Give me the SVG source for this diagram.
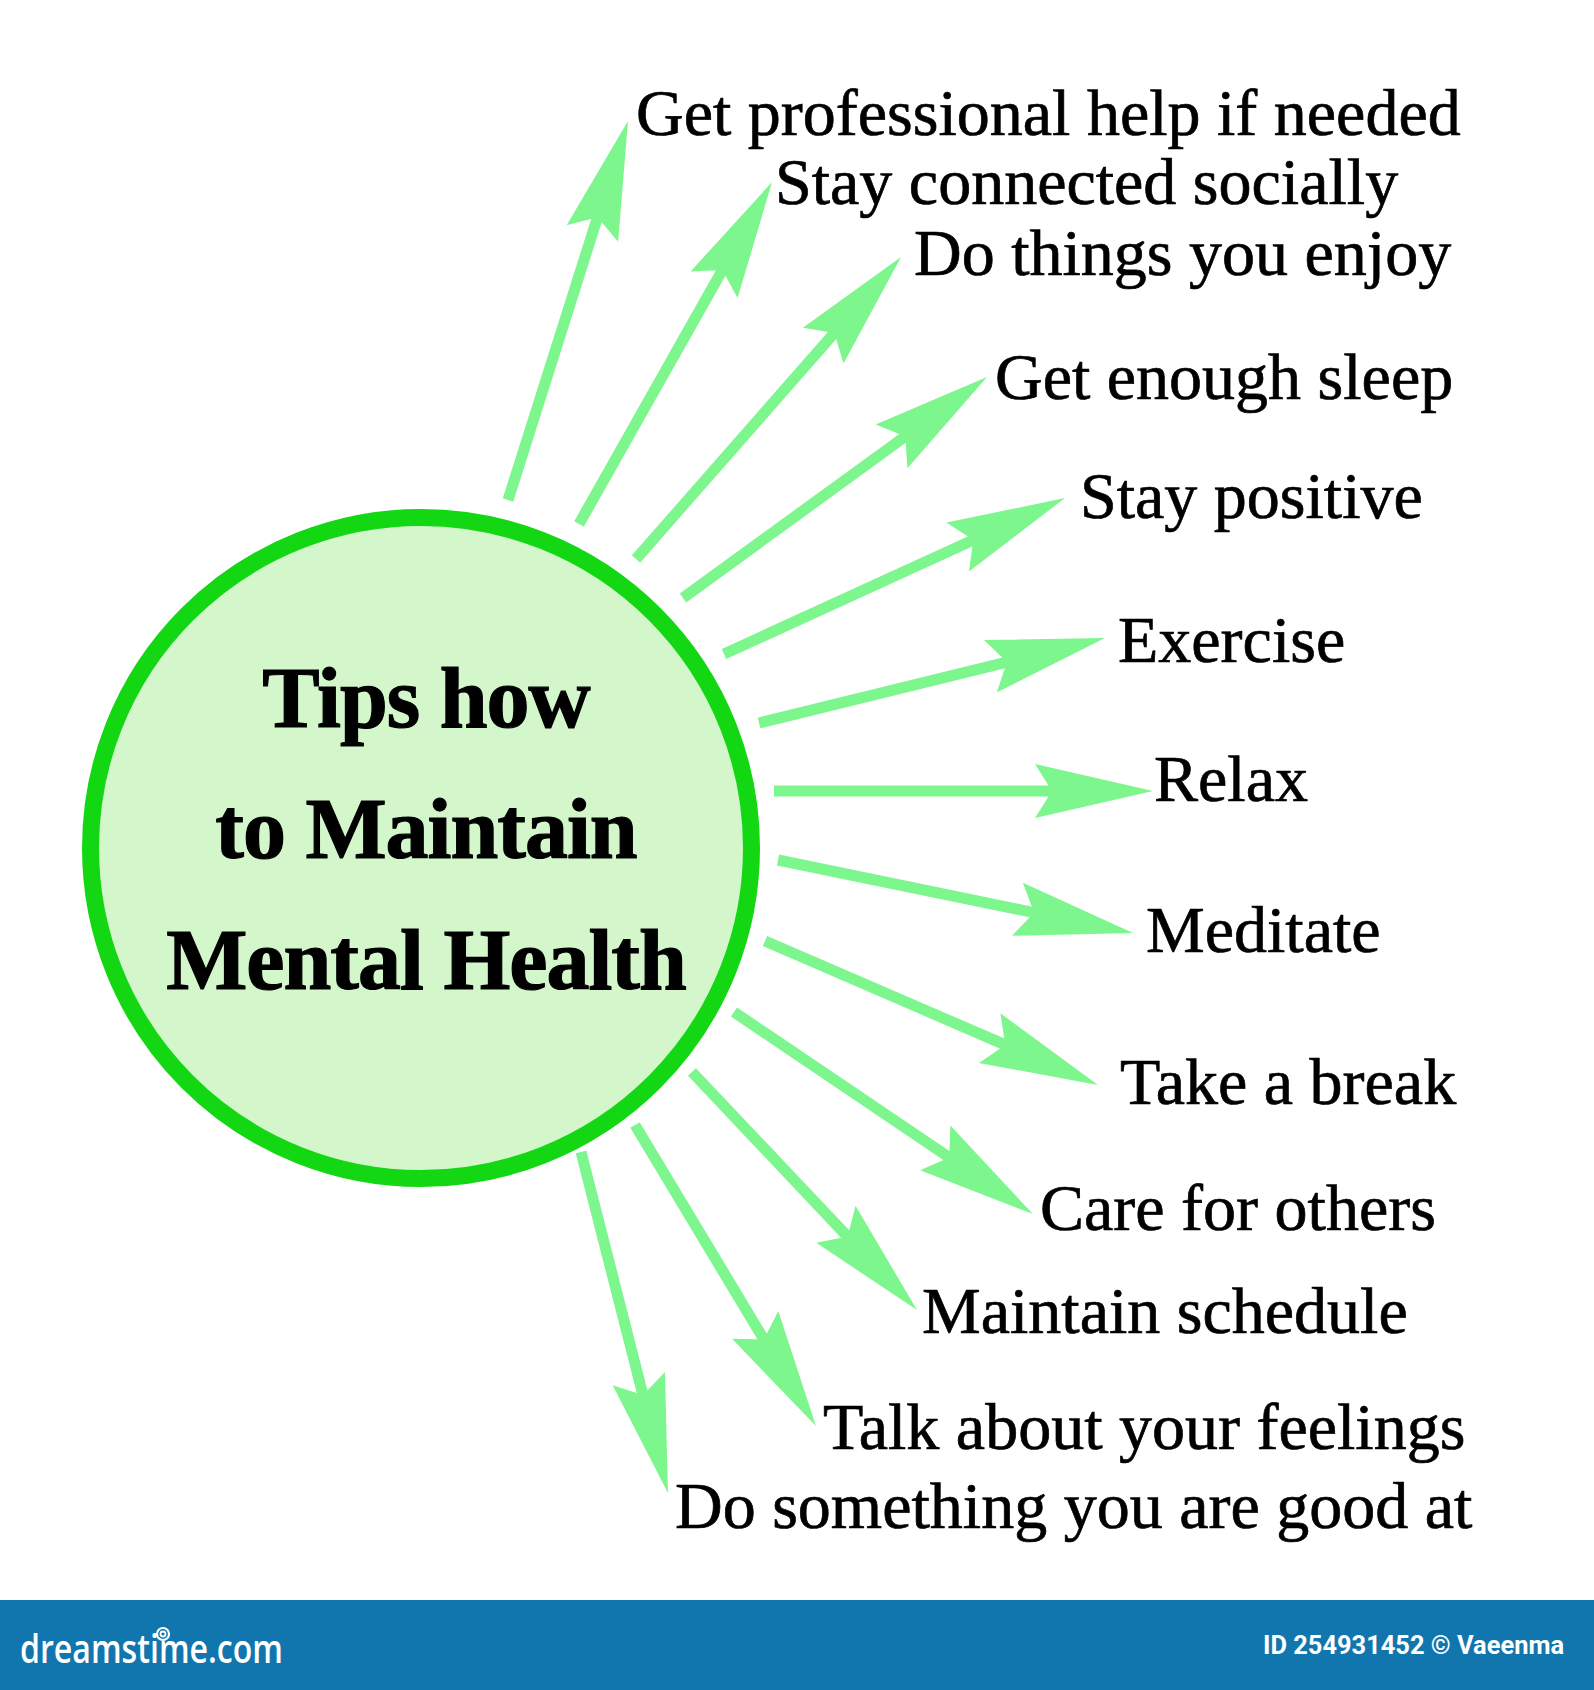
<svg xmlns="http://www.w3.org/2000/svg" width="1594" height="1690" viewBox="0 0 1594 1690">
<style>
.bg{fill:#ffffff}
.hub{fill:#d3f7cb;stroke:#14d714;stroke-width:17}
.title{font-family:"Liberation Serif","Times New Roman",serif;font-weight:bold;font-size:86px;letter-spacing:-1px;fill:#000;stroke:#000;stroke-width:1.2;text-anchor:middle}
.lbl{font-family:"Liberation Serif","Times New Roman",serif;font-size:66px;fill:#000;stroke:#000;stroke-width:0.7}
.conn line{stroke:#7df68d;stroke-width:11;stroke-linecap:butt;marker-end:url(#ah)}
.foot{fill:#1276ae}
.ft{fill:#ffffff}
</style>
<defs>
<marker id="ah" markerUnits="userSpaceOnUse" markerWidth="130" markerHeight="60" refX="0" refY="0" orient="auto" overflow="visible">
<path d="M101 0 L-17 -27 L0 0 L-17 27 Z" fill="#7df68d"/>
</marker>
</defs>
<rect class="bg" x="0" y="0" width="1594" height="1690"/>

<g id="connectors" class="conn">
<line x1="508" y1="500" x2="597.5" y2="217.3"/>
<line x1="579" y1="524" x2="722.4" y2="270"/>
<line x1="636" y1="559" x2="834.4" y2="332.9"/>
<line x1="683" y1="598" x2="905.3" y2="436.4"/>
<line x1="724" y1="654" x2="973.2" y2="540"/>
<line x1="759" y1="723" x2="1006.9" y2="662.1"/>
<line x1="774" y1="791" x2="1052" y2="791"/>
<line x1="778" y1="860" x2="1034.1" y2="912.7"/>
<line x1="765" y1="941" x2="1005.3" y2="1044.9"/>
<line x1="734" y1="1012" x2="949.3" y2="1157.5"/>
<line x1="692" y1="1072" x2="847.6" y2="1236.6"/>
<line x1="635" y1="1125" x2="763.9" y2="1339.4"/>
<line x1="581" y1="1152" x2="643" y2="1395.1"/>
</g>

<g id="hub">
<circle class="hub" cx="421" cy="848" r="330.5"/>
<text class="title" x="426" y="727">Tips how</text>
<text class="title" x="426" y="858">to Maintain</text>
<text class="title" x="426" y="989">Mental Health</text>
</g>

<g id="tip-1"><text class="lbl" x="636" y="135">Get professional help if needed</text></g>
<g id="tip-2"><text class="lbl" x="775" y="204">Stay connected socially</text></g>
<g id="tip-3"><text class="lbl" x="914" y="275">Do things you enjoy</text></g>
<g id="tip-4"><text class="lbl" x="995" y="399">Get enough sleep</text></g>
<g id="tip-5"><text class="lbl" x="1080" y="518">Stay positive</text></g>
<g id="tip-6"><text class="lbl" x="1118" y="662">Exercise</text></g>
<g id="tip-7"><text class="lbl" x="1154" y="801">Relax</text></g>
<g id="tip-8"><text class="lbl" x="1146" y="952">Meditate</text></g>
<g id="tip-9"><text class="lbl" x="1120" y="1104">Take a break</text></g>
<g id="tip-10"><text class="lbl" x="1040" y="1230">Care for others</text></g>
<g id="tip-11"><text class="lbl" x="922" y="1333">Maintain schedule</text></g>
<g id="tip-12"><text class="lbl" x="823" y="1449">Talk about your feelings</text></g>
<g id="tip-13"><text class="lbl" x="675" y="1528">Do something you are good at</text></g>

<g id="footer">
<rect class="foot" x="0" y="1600" width="1594" height="90"/>
<text class="ft" x="20" y="1663" font-family="'Open Sans','DejaVu Sans',sans-serif" font-weight="600" font-size="40" textLength="263" lengthAdjust="spacingAndGlyphs">dreamstime.com</text>
<circle cx="163" cy="1634" r="6" fill="none" stroke="#ffffff" stroke-width="2.2"/>
<circle cx="163" cy="1634" r="2.5" fill="none" stroke="#ffffff" stroke-width="1.8"/>
<text class="ft" x="1263" y="1654" font-family="Roboto,'Liberation Sans',sans-serif" font-weight="bold" font-size="26" textLength="301" lengthAdjust="spacingAndGlyphs">ID 254931452 © Vaeenma</text>
</g>
</svg>
